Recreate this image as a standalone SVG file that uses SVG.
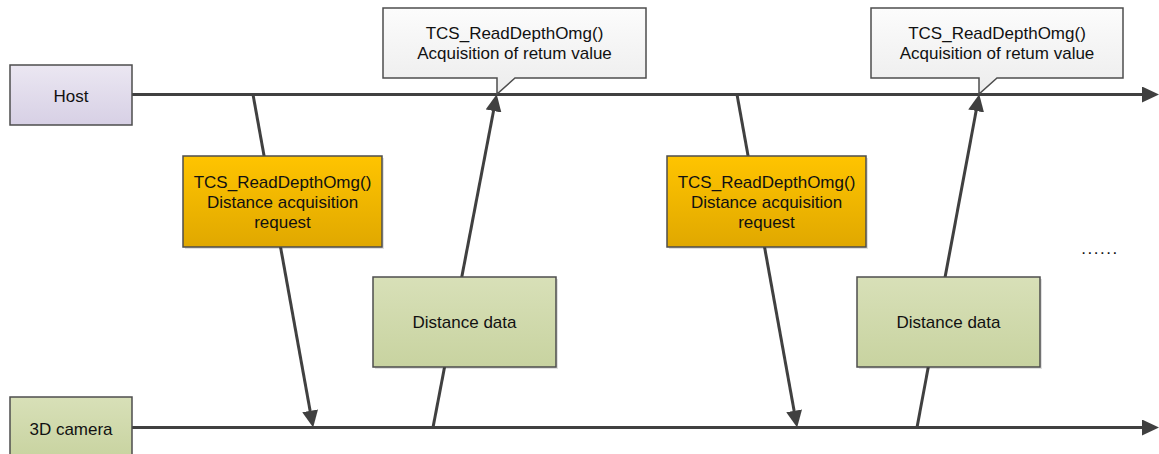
<svg xmlns="http://www.w3.org/2000/svg" width="1159" height="454" viewBox="0 0 1159 454">
  <style>
    .box { stroke: #4d4d4d; stroke-width: 1.5; }
    .shadow { fill: #000; opacity: 0.12; }
    .lbl { font-family: "Liberation Sans", Arial, sans-serif; font-size: 17px; fill: #111; text-anchor: middle; }
    .line { stroke: #404040; stroke-width: 3; fill: none; }
  </style>
  <defs>
    <linearGradient id="gHost" x1="0" y1="0" x2="0" y2="1">
      <stop offset="0" stop-color="#ebe7f2"/>
      <stop offset="1" stop-color="#d7d0e5"/>
    </linearGradient>
    <linearGradient id="gCam" x1="0" y1="0" x2="0" y2="1">
      <stop offset="0" stop-color="#d8e0b8"/>
      <stop offset="1" stop-color="#c8d3a0"/>
    </linearGradient>
    <linearGradient id="gReq" x1="0" y1="0" x2="0" y2="1">
      <stop offset="0" stop-color="#ffc400"/>
      <stop offset="1" stop-color="#e0a800"/>
    </linearGradient>
    <linearGradient id="gCall" x1="0" y1="0" x2="0" y2="1">
      <stop offset="0" stop-color="#fcfcfc"/>
      <stop offset="1" stop-color="#ececec"/>
    </linearGradient>
    <marker id="arrow" markerUnits="userSpaceOnUse" markerWidth="17" markerHeight="16" viewBox="0 0 17 16" refX="1" refY="8" orient="auto">
      <path d="M0,0 L17,8 L0,16 Z" fill="#404040"/>
    </marker>
  </defs>

  <!-- connectors: lifelines and messages -->
  <g id="connectors">
    <line class="line" x1="132" y1="94.5" x2="1143" y2="94.5" marker-end="url(#arrow)"/>
    <line class="line" x1="132" y1="427.5" x2="1143" y2="427.5" marker-end="url(#arrow)"/>
    <line class="line" x1="253" y1="94.5" x2="310.3" y2="411.8" marker-end="url(#arrow)"/>
    <line class="line" x1="433" y1="427.5" x2="493.7" y2="110" marker-end="url(#arrow)"/>
    <line class="line" x1="737" y1="94.5" x2="794.3" y2="411.8" marker-end="url(#arrow)"/>
    <line class="line" x1="917" y1="427.5" x2="976.3" y2="110" marker-end="url(#arrow)"/>
  </g>

  <g id="host">
    <rect class="box" x="10" y="65" width="122" height="60" fill="url(#gHost)"/>
    <text class="lbl" x="71" y="101.5">Host</text>
  </g>

  <g id="camera">
    <rect class="box" x="10" y="397" width="122" height="62" fill="url(#gCam)"/>
    <text class="lbl" x="71" y="435">3D camera</text>
  </g>

  <g id="request1">
    <rect class="shadow" x="185" y="158" width="199" height="91"/>
    <rect class="box" x="183" y="156" width="199" height="91" fill="url(#gReq)"/>
    <text class="lbl" x="282.5" y="187.5">TCS_ReadDepthOmg()</text>
    <text class="lbl" x="282.5" y="207.5">Distance acquisition</text>
    <text class="lbl" x="282.5" y="227.5">request</text>
  </g>

  <g id="data1">
    <rect class="shadow" x="375" y="279" width="183" height="90"/>
    <rect class="box" x="373" y="277" width="183" height="90" fill="url(#gCam)"/>
    <text class="lbl" x="464.5" y="328">Distance data</text>
  </g>

  <g id="request2">
    <rect class="shadow" x="669" y="158" width="199" height="91"/>
    <rect class="box" x="667" y="156" width="199" height="91" fill="url(#gReq)"/>
    <text class="lbl" x="766.5" y="187.5">TCS_ReadDepthOmg()</text>
    <text class="lbl" x="766.5" y="207.5">Distance acquisition</text>
    <text class="lbl" x="766.5" y="227.5">request</text>
  </g>

  <g id="data2">
    <rect class="shadow" x="859" y="279" width="183" height="90"/>
    <rect class="box" x="857" y="277" width="183" height="90" fill="url(#gCam)"/>
    <text class="lbl" x="948.5" y="328">Distance data</text>
  </g>

  <g id="callout1">
    <path class="box" d="M383,8 H646 V78 H515 L497,94 L497,78 H383 Z" fill="url(#gCall)"/>
    <text class="lbl" x="514.5" y="39">TCS_ReadDepthOmg()</text>
    <text class="lbl" x="514.5" y="59">Acquisition of retum value</text>
  </g>

  <g id="callout2">
    <path class="box" d="M871,8 H1123 V78 H997 L979,94 L979,78 H871 Z" fill="url(#gCall)"/>
    <text class="lbl" x="997" y="39">TCS_ReadDepthOmg()</text>
    <text class="lbl" x="997" y="59">Acquisition of retum value</text>
  </g>

  <g id="more">
    <text class="lbl" x="1100" y="254" style="letter-spacing:1.5px">......</text>
  </g>
</svg>
